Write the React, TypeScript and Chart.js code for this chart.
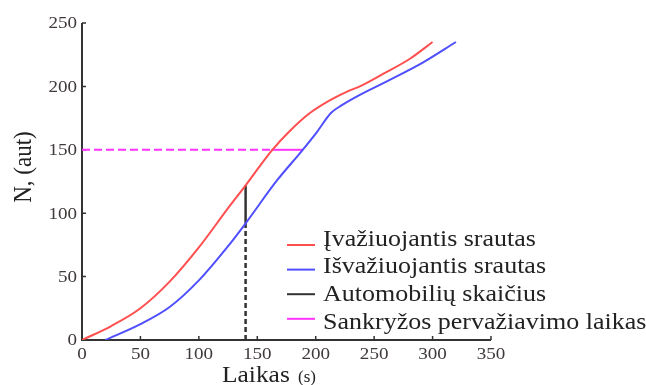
import { useEffect, useRef } from "react";
import { Chart, registerables } from "chart.js";

Chart.register(...registerables);

// Inflow (entering vehicles), cumulative count over time
const inflowTime = [0, 25, 50, 75, 100, 125, 140, 152, 162, 178, 195, 212, 226, 240, 258, 281, 300];
const inflowCars = [0, 11, 25, 46, 73, 104, 122, 137, 149, 165, 179, 189, 195.5, 201, 210, 222, 235];

// Outflow (leaving vehicles), cumulative count over time
const outflowTime = [20, 50, 75, 100, 125, 140, 167, 188, 201, 213, 222, 235, 263, 292, 320];
const outflowCars = [0, 12.5, 26, 47, 74, 92, 126, 149, 164, 179, 185, 192, 205, 219, 235];

// Vehicle count at a chosen moment (vertical gap between the curves)
const countTime = 140;
const countGapCars = [92, 122];
const countBaseCars = [0, 92];

// Crossing time at a chosen count level (horizontal gap between the curves)
const crossingCars = 150;
const crossingGapTime = [162, 189];
const crossingBaseTime = [0, 162];

const legendLabels = [
  "Įvažiuojantis srautas",
  "Išvažiuojantis srautas",
  "Automobilių skaičius",
  "Sankryžos pervažiavimo laikas",
];
const legendColors = ["#ff4f4f", "#4f4fff", "#333333", "#ff33ff"];

const xTitle = "Laikas";
const xUnit = "(s)";
const yTitle = "N, (aut)";

const FONT = '"Liberation Serif", "Times New Roman", Times, serif';
const TEXT = "#222222";
const AXIS = "#333333";

function stretchedText(
  ctx: CanvasRenderingContext2D,
  text: string,
  x: number,
  y: number,
  sx: number,
  align: CanvasTextAlign,
  baseline: CanvasTextBaseline
) {
  ctx.save();
  ctx.translate(x, y);
  ctx.scale(sx, 1);
  ctx.textAlign = align;
  ctx.textBaseline = baseline;
  ctx.fillText(text, 0, 0);
  ctx.restore();
}

const axesPlugin = {
  id: "paperAxes",
  beforeDatasetsDraw(chart: any) {
    const { ctx, scales } = chart;
    const xs = scales.x;
    const ys = scales.y;
    const x0 = xs.getPixelForValue(xs.min);
    const x1 = xs.getPixelForValue(xs.max);
    const y0 = ys.getPixelForValue(ys.min);
    const y1 = ys.getPixelForValue(ys.max);
    ctx.save();
    ctx.strokeStyle = AXIS;
    ctx.lineWidth = 2;
    ctx.beginPath();
    ctx.moveTo(x0, y1);
    ctx.lineTo(x0, y0);
    ctx.lineTo(x1, y0);
    ctx.stroke();
    ctx.lineWidth = 1.5;
    ctx.beginPath();
    for (const t of xs.ticks) {
      const px = xs.getPixelForValue(t.value);
      ctx.moveTo(px, y0);
      ctx.lineTo(px, y0 - 4);
    }
    for (const t of ys.ticks) {
      const py = ys.getPixelForValue(t.value);
      ctx.moveTo(x0, py);
      ctx.lineTo(x0 + 4, py);
    }
    ctx.stroke();
    ctx.restore();
  },
  afterDraw(chart: any) {
    const { ctx, scales } = chart;
    const xs = scales.x;
    const ys = scales.y;
    const x0 = xs.getPixelForValue(xs.min);
    const y0 = ys.getPixelForValue(ys.min);
    ctx.save();
    ctx.fillStyle = "#403a3a";
    ctx.font = `17px ${FONT}`;
    for (const t of xs.ticks) {
      stretchedText(ctx, String(t.value), xs.getPixelForValue(t.value), y0 + 15, 1.12, "center", "middle");
    }
    for (const t of ys.ticks) {
      stretchedText(ctx, String(t.value), x0 - 5, ys.getPixelForValue(t.value) + 1, 1.12, "right", "middle");
    }

    // x title
    ctx.fillStyle = TEXT;
    ctx.font = `24px ${FONT}`;
    stretchedText(ctx, xTitle, 222, 382, 1.06, "left", "alphabetic");
    ctx.font = `16px ${FONT}`;
    stretchedText(ctx, xUnit, 298, 382, 1.06, "left", "alphabetic");

    // y title
    ctx.save();
    ctx.font = `23px ${FONT}`;
    ctx.translate(24, 167);
    ctx.rotate(-Math.PI / 2);
    ctx.scale(1, 1.12);
    ctx.textAlign = "center";
    ctx.textBaseline = "middle";
    ctx.fillText(yTitle, 0, 0);
    ctx.restore();

    // legend
    ctx.font = `23px ${FONT}`;
    legendLabels.forEach((label, i) => {
      const ly = 245 + i * 24.6;
      ctx.strokeStyle = legendColors[i];
      ctx.lineWidth = 2;
      ctx.beginPath();
      ctx.moveTo(287, ly);
      ctx.lineTo(315, ly);
      ctx.stroke();
      ctx.fillStyle = TEXT;
      stretchedText(ctx, label, 323, 245.5 + i * 27.8, 1.13, "left", "alphabetic");
    });
    ctx.restore();
  },
};

export default function App() {
  const canvasRef = useRef<HTMLCanvasElement | null>(null);

  useEffect(() => {
    if (!canvasRef.current) return;
    const pts = (xs: number[], ys: number[]) => xs.map((x, i) => ({ x, y: ys[i] }));
    const chart = new Chart(canvasRef.current, {
      type: "line",
      data: {
        datasets: [
          {
            label: legendLabels[0],
            data: pts(inflowTime, inflowCars),
            borderColor: legendColors[0],
            borderWidth: 2,
            pointRadius: 0,
            cubicInterpolationMode: "monotone",
          },
          {
            label: legendLabels[1],
            data: pts(outflowTime, outflowCars),
            borderColor: legendColors[1],
            borderWidth: 2,
            pointRadius: 0,
            cubicInterpolationMode: "monotone",
          },
          {
            label: legendLabels[2],
            data: pts([countTime, countTime], countGapCars),
            borderColor: legendColors[2],
            borderWidth: 2.5,
            pointRadius: 0,
          },
          {
            label: legendLabels[2],
            data: pts([countTime, countTime], countBaseCars),
            borderColor: legendColors[2],
            borderWidth: 2.5,
            borderDash: [5, 3],
            pointRadius: 0,
          },
          {
            label: legendLabels[3],
            data: pts(crossingGapTime, [crossingCars, crossingCars]),
            borderColor: legendColors[3],
            borderWidth: 2,
            pointRadius: 0,
          },
          {
            label: legendLabels[3],
            data: pts(crossingBaseTime, [crossingCars, crossingCars]),
            borderColor: legendColors[3],
            borderWidth: 2,
            borderDash: [8, 4],
            pointRadius: 0,
          },
        ],
      },
      options: {
        responsive: false,
        animation: false,
        layout: { padding: { top: 23, right: 155, left: 0, bottom: 0 } },
        plugins: { legend: { display: false }, tooltip: { enabled: false } },
        scales: {
          x: {
            type: "linear",
            min: 0,
            max: 350,
            ticks: { stepSize: 50, display: false },
            grid: { display: false },
            border: { display: false },
            afterFit: (s: any) => {
              s.height = 45;
            },
          },
          y: {
            type: "linear",
            min: 0,
            max: 250,
            ticks: { stepSize: 50, display: false },
            grid: { display: false },
            border: { display: false },
            afterFit: (s: any) => {
              s.width = 82;
            },
          },
        },
      },
      plugins: [axesPlugin],
    } as any);
    // redraw once the serif face is ready so canvas text uses it
    let alive = true;
    const fonts = (document as any).fonts;
    if (fonts && fonts.load) {
      Promise.all([fonts.load(`23px "Liberation Serif"`), fonts.ready]).then(() => {
        if (alive) chart.draw();
      });
    }
    return () => {
      alive = false;
      chart.destroy();
    };
  }, []);

  return (
    <div style={{ position: "absolute", left: 0, top: 0, width: 646, height: 385, background: "#fff" }}>
      <canvas ref={canvasRef} width={646} height={385} style={{ display: "block" }} />
    </div>
  );
}
